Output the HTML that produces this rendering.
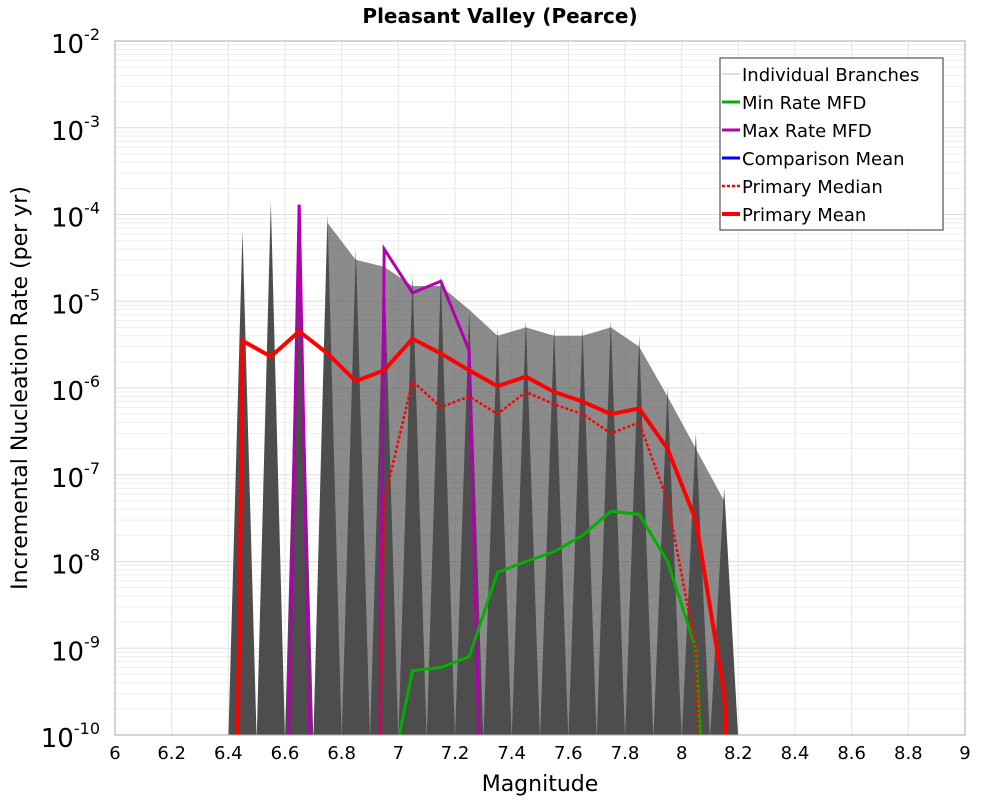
<!DOCTYPE html>
<html><head><meta charset="utf-8"><style>body{margin:0;background:#fff}svg{display:block;font-family:"DejaVu Sans","Liberation Sans",sans-serif}</style></head>
<body>
<svg id="c" width="1000" height="800"></svg>
<script>
const bins=[6.45,6.55,6.65,6.75,6.85,6.95,7.05,7.15,7.25,7.35,7.45,7.55,7.65,7.75,7.85,7.95,8.05,8.15];
const spikeMax=[6.5e-5,1.4e-4,1.3e-4,1e-4,4e-5,3e-5,2e-5,2e-5,8e-6,5e-6,6e-6,5e-6,5e-6,6e-6,4e-6,1e-6,3e-7,7e-8];
const fanM=[6.75,6.85,6.95,7.05,7.15,7.25,7.35,7.45,7.55,7.65,7.75,7.85,7.95,8.05,8.15];
const fanTop=[8e-5,3e-5,2.5e-5,1.5e-5,1.5e-5,8e-6,4e-6,5e-6,4e-6,4e-6,5e-6,3e-6,8e-7,2e-7,5e-8];
const meanM=[6.43,6.45,6.55,6.65,6.75,6.85,6.95,7.05,7.15,7.25,7.35,7.45,7.55,7.65,7.75,7.85,7.95,8.05,8.15,8.17];
const meanV=[1e-11,3.5e-6,2.3e-6,4.5e-6,2.5e-6,1.2e-6,1.6e-6,3.7e-6,2.5e-6,1.6e-6,1.05e-6,1.35e-6,9e-7,7e-7,5e-7,5.8e-7,2e-7,3e-8,3e-10,1e-11];
const medM=[6.93,6.95,7.05,7.15,7.25,7.35,7.45,7.55,7.65,7.75,7.85,7.95,8.05,8.07];
const medV=[1e-11,5e-8,1.2e-6,6e-7,8e-7,5e-7,9e-7,6.5e-7,5e-7,3e-7,4e-7,5e-8,1e-9,1e-11];
const minM=[6.94,7.05,7.15,7.25,7.35,7.45,7.55,7.65,7.75,7.85,7.95,8.05,8.08];
const minV=[1e-11,5.5e-10,6e-10,8e-10,7.5e-9,1e-8,1.3e-8,2e-8,3.8e-8,3.5e-8,1e-8,1e-9,1e-11];
const maxM=[6.6,6.65,6.7,6.93,6.95,7.05,7.15,7.25,7.3];
const maxV=[1e-12,1.3e-4,1e-12,1e-12,4e-5,1.25e-5,1.7e-5,2.7e-6,1e-12];
const xTicks=[6,6.2,6.4,6.6,6.8,7,7.2,7.4,7.6,7.8,8,8.2,8.4,8.6,8.8,9];
const yExp=[-2,-3,-4,-5,-6,-7,-8,-9,-10];

const L=115,R=965,T=41,B=735;
const X=m=>L+(m-6)/3*(R-L);
const Y=v=>T+(-2-Math.log10(v))/8*(B-T);
const svg=document.getElementById('c');const NS='http://www.w3.org/2000/svg';
function el(t,a,p){const e=document.createElementNS(NS,t);for(const k in a)e.setAttribute(k,a[k]);(p||svg).appendChild(e);return e;}
const grid=el('g',{});
for(let e=-10;e<-2;e++)for(let k=1;k<10;k++){const y=Y(k*Math.pow(10,e));el('line',{x1:L,x2:R,y1:y,y2:y,stroke:k==1?'#ddd':'#eee','stroke-width':1},grid);}
xTicks.forEach(m=>el('line',{x1:X(m),x2:X(m),y1:T,y2:B,stroke:'#e6e6e6'},grid));
const clip=el('clipPath',{id:'pc'});el('rect',{x:L,y:T,width:R-L,height:B-T},clip);
const br=el('g',{'clip-path':'url(#pc)'});
let fp=`${X(fanM[0])},${B+5} `+fanM.map((m,i)=>`${X(m)},${Y(fanTop[i])}`).join(' ')+` ${X(fanM[fanM.length-1]+0.03)},${B+5}`;
const fan=el('polygon',{points:fp,fill:'#5a5a5a','fill-opacity':0.7},br);

bins.forEach((m,i)=>{const p=el('polygon',{points:`${X(m-0.05)},${B+5} ${X(m)},${Y(spikeMax[i])} ${X(m+0.05)},${B+5}`,fill:'#4d4d4d'},br);
});
function line(ms,vs,col,w,name,dash){const a={points:ms.map((m,i)=>`${X(m)},${Y(vs[i])}`).join(' '),fill:'none',stroke:col,'stroke-width':w,'stroke-linejoin':'miter','clip-path':'url(#pc)'};if(dash)a['stroke-dasharray']=dash;const p=el('polyline',a);}
line(maxM,maxV,'#b000b0',3,'max-rate-line');
line(minM,minV,'#00b000',3,'min-rate-line');
line(meanM,meanV,'#0000ff',2,'comparison-mean-line');
line(medM,medV,'#ff0000',2.5,'primary-median-line','3,2');
line(meanM,meanV,'#ff0000',4,'primary-mean-line');
el('rect',{x:L,y:T,width:R-L,height:B-T,fill:'none',stroke:'#aaa'});
xTicks.forEach(m=>{const t=el('text',{x:X(m),y:759,'font-size':18,'text-anchor':'middle',fill:'#000'});t.textContent=String(m);});
yExp.forEach(e=>{const t=el('text',{x:100,y:Y(Math.pow(10,e))+12,'font-size':26,'text-anchor':'end',fill:'#000'});
const a=el('tspan',{},t);a.textContent='10';const b=el('tspan',{dy:-13,'font-size':16},t);b.textContent=String(e);});
let t=el('text',{x:540,y:791,'font-size':22,'text-anchor':'middle'});t.textContent='Magnitude';
t=el('text',{x:0,y:0,'font-size':22,'text-anchor':'middle',transform:'translate(27,388) rotate(-90)'});t.textContent='Incremental Nucleation Rate (per yr)';
t=el('text',{x:500,y:23,'font-size':20,'font-weight':'bold','text-anchor':'middle'});t.textContent='Pleasant Valley (Pearce)';
const lg=el('g',{});
el('rect',{x:720,y:58,width:223,height:172,fill:'#fff',stroke:'#333'},lg);
const items=[['Individual Branches','#bbb',1,null],['Min Rate MFD','#00b000',3,null],['Max Rate MFD','#b000b0',3,null],['Comparison Mean','#0000ff',3,null],[' Primary Median','#ff0000',2.5,'3,2'],['Primary Mean','#ff0000',4,null]];
items.forEach((it,i)=>{const y=74+i*28;const g=el('g',{},lg);
const a={x1:722,x2:740,y1:y,y2:y,stroke:it[1],'stroke-width':it[2]};if(it[3])a['stroke-dasharray']=it[3];el('line',a,g);
const s=el('text',{x:742,y:y+7,'font-size':18},g);s.textContent=it[0];});
</script>
</body></html>
